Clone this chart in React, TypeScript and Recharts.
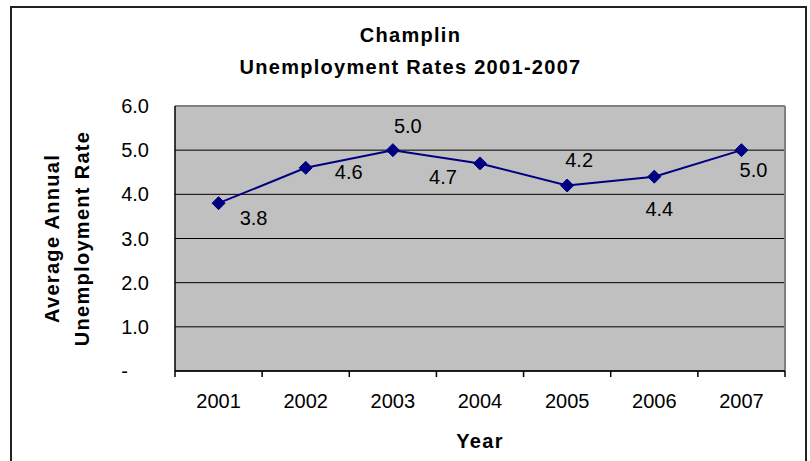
import { LineChart, Line, XAxis, YAxis, CartesianGrid } from 'recharts'

// Champlin average annual unemployment rate, 2001-2007
const years = ['2001', '2002', '2003', '2004', '2005', '2006', '2007']
const rates = [3.8, 4.6, 5.0, 4.7, 4.2, 4.4, 5.0]
const yTicks = [0, 1, 2, 3, 4, 5, 6]

// where each value label sits relative to its point (dx, dy)
const labelOffsets = [
    [35, 15],
    [43, 4],
    [15, -24],
    [-37, 14],
    [12, -26],
    [5, 32],
    [12, 20],
]

const data = years.map((year, i) => ({ year, rate: rates[i] }))

const FONT = '"Liberation Sans", Arial, sans-serif'
const NAVY = '#000080'
const W = 810
const H = 461
const PLOT_W = 610
const STEP = PLOT_W / years.length

const Diamond = (props: any) => {
    const { cx, cy, index } = props
    const r = 6.5
    return (
        <polygon
            key={`dot-${index}`}
            points={`${cx},${cy - r} ${cx + r},${cy} ${cx},${cy + r} ${cx - r},${cy}`}
            fill={NAVY}
            stroke={NAVY}
        />
    )
}

const ValueLabel = (props: any) => {
    const { x, y, value, index } = props
    const [dx, dy] = labelOffsets[index] || [0, 0]
    return (
        <text
            key={`lbl-${index}`}
            x={x + dx}
            y={y + dy + 7}
            textAnchor="middle"
            fontSize={20}
            fontFamily={FONT}
            fill="#000"
        >
            {Number(value).toFixed(1)}
        </text>
    )
}

const YearTick = (props: any) => {
    const { x, y, payload, index } = props
    const left = x - STEP / 2
    return (
        <g>
            <line x1={left} x2={left} y1={y} y2={y + 6} stroke="#000" strokeWidth={1.5} />
            {index === years.length - 1 && (
                <line x1={x + STEP / 2} x2={x + STEP / 2} y1={y} y2={y + 6} stroke="#000" strokeWidth={1.5} />
            )}
            <text x={x} y={y + 37} textAnchor="middle" fontSize={20} fontFamily={FONT} fill="#000">
                {payload.value}
            </text>
        </g>
    )
}

const RateTick = (props: any) => {
    const { x, y, payload } = props
    const v = payload.value
    return (
        <text
            x={v === 0 ? x - 21 : x}
            y={y + 7}
            textAnchor="end"
            fontSize={20}
            fontFamily={FONT}
            fill="#000"
        >
            {v === 0 ? '-' : v.toFixed(1)}
        </text>
    )
}

const boldText = { fontFamily: FONT, fontWeight: 'bold' as const, fontSize: 20, letterSpacing: '1.3px' }

export default function App() {
    return (
        <div style={{ position: 'absolute', left: 0, top: 0, width: W, height: H, overflow: 'hidden', background: '#fff' }}>
            <div
                style={{
                    position: 'absolute',
                    left: 10,
                    top: 6,
                    width: 793,
                    height: 520,
                    border: '2px solid #222',
                }}
            />
            <div
                style={{
                    ...boldText,
                    position: 'absolute',
                    left: 10,
                    top: 19,
                    width: 800,
                    lineHeight: '32px',
                    textAlign: 'center',
                    paddingLeft: 1,
                    boxSizing: 'border-box',
                    color: '#000',
                }}
            >
                <div>Champlin</div>
                <div>Unemployment Rates 2001-2007</div>
            </div>
            <LineChart
                width={W}
                height={H}
                data={data}
                margin={{ top: 106, right: 25, bottom: 0, left: 0 }}
                style={{ position: 'absolute', left: 0, top: 0 }}
            >
                <CartesianGrid vertical={false} fill="#C0C0C0" fillOpacity={1} stroke="#000" strokeWidth={1} />
                <CartesianGrid
                    fill="none"
                    stroke="#808080"
                    strokeWidth={2}
                    horizontalCoordinatesGenerator={({ offset }: any) => [offset.top]}
                    verticalCoordinatesGenerator={({ offset }: any) => [offset.left + offset.width]}
                />
                <XAxis
                    dataKey="year"
                    height={90}
                    padding={{ left: STEP / 2, right: STEP / 2 }}
                    axisLine={{ stroke: '#000', strokeWidth: 1.5 }}
                    tickLine={false}
                    tickSize={0}
                    tickMargin={0}
                    interval={0}
                    tick={<YearTick />}
                    label={{
                        content: (p: any) => {
                            const vb = p.viewBox
                            return (
                                <text x={vb.x + vb.width / 2} y={vb.y + 77} textAnchor="middle" fill="#000" style={boldText}>
                                    Year
                                </text>
                            )
                        },
                    }}
                />
                <YAxis
                    width={175}
                    domain={[0, 6]}
                    ticks={yTicks}
                    axisLine={{ stroke: '#000', strokeWidth: 1.5 }}
                    tickLine={false}
                    tickSize={0}
                    tickMargin={26}
                    tick={<RateTick />}
                    label={{
                        content: (p: any) => {
                            const vb = p.viewBox
                            const cy = vb.y + vb.height / 2
                            return (
                                <g>
                                    <text x={59} y={cy} transform={`rotate(-90 59 ${cy})`} textAnchor="middle" fill="#000" style={boldText}>
                                        Average Annual
                                    </text>
                                    <text x={89} y={cy} transform={`rotate(-90 89 ${cy})`} textAnchor="middle" fill="#000" style={boldText}>
                                        Unemployment Rate
                                    </text>
                                </g>
                            )
                        },
                    }}
                />
                <Line
                    type="linear"
                    dataKey="rate"
                    stroke={NAVY}
                    strokeWidth={2}
                    dot={(p: any) => <Diamond key={`d-${p.index}`} {...p} />}
                    activeDot={false}
                    label={(p: any) => <ValueLabel key={`l-${p.index}`} {...p} />}
                    isAnimationActive={false}
                />
            </LineChart>
        </div>
    )
}
